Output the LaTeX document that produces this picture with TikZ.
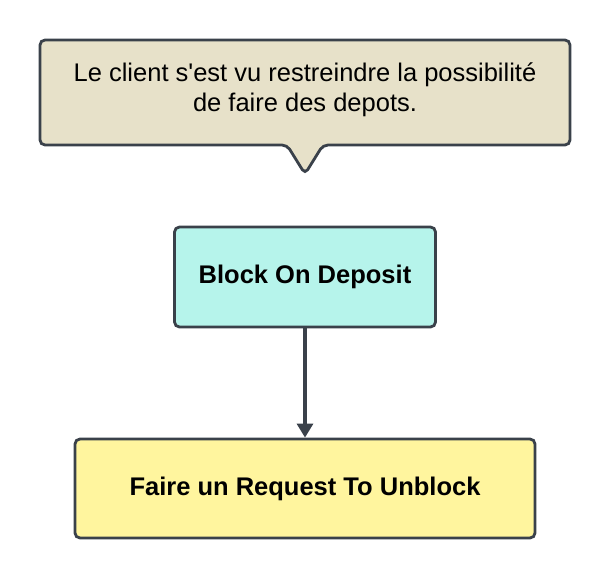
\documentclass[tikz,border=0pt]{standalone}
\usepackage{fontspec}
\setmainfont{Liberation Sans}[Ligatures=TeXOff]
\usetikzlibrary{arrows.meta}
\definecolor{edge}{HTML}{3A414A}
\definecolor{note}{HTML}{E7E1C9}
\definecolor{teal}{HTML}{B6F4EB}
\definecolor{yel}{HTML}{FFF59E}
\tikzset{
  box/.style={draw=edge, line width=2.8pt, rounded corners=5pt, align=center, font=\bfseries\fontsize{25.5}{30}\selectfont},
  conn/.style={draw=edge, line width=3.2pt, -{Triangle[length=14pt,width=16pt]}}
}
\begin{document}
\begin{tikzpicture}[x=1pt,y=-1pt]
\useasboundingbox (0,0) rectangle (609,578);
% callout
\draw[edge, fill=note, line width=2.8pt, rounded corners=5pt]
  (40,40) -- (570,40) -- (570,145) -- (323,145) -- (305,174) -- (287,145) -- (40,145) -- cycle;
\node[align=center, font=\fontsize{25.5}{30}\selectfont] (note) at (305,90)
  {Le client s'est vu restreindre la possibilité\\de faire des depots.};
\node[box, fill=teal, minimum width=261pt, minimum height=100pt] (block) at (305,277) {Block On Deposit};
\node[box, fill=yel, minimum width=460pt, minimum height=99pt] (req) at (305,488.5) {Faire un Request To Unblock};
\draw[conn] (block) -- (req);
\end{tikzpicture}
\end{document}
